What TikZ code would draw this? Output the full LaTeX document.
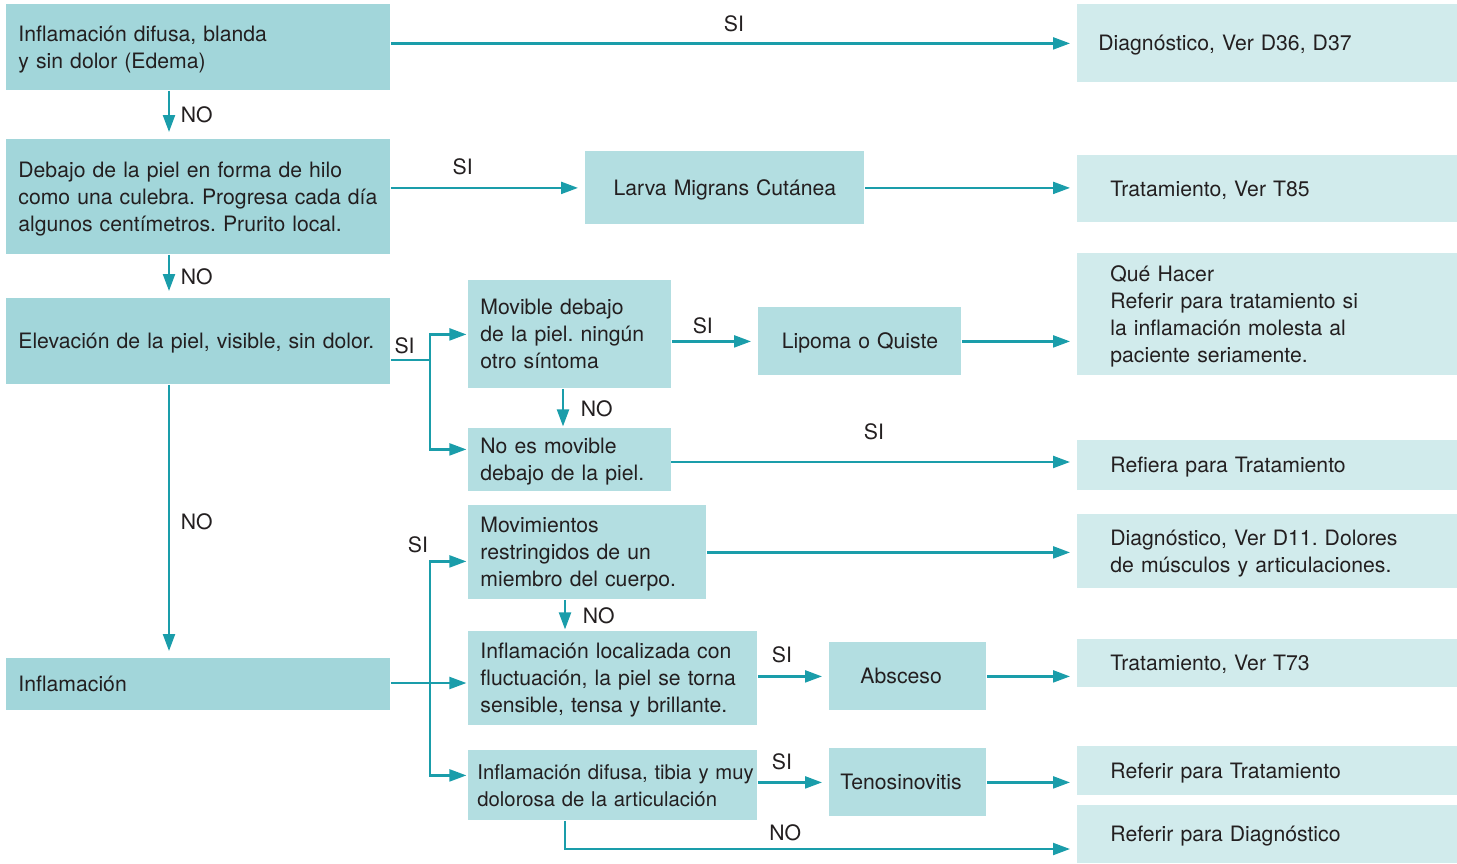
\documentclass[tikz,border=0pt]{standalone}
\usepackage{fontspec}
\setmainfont{TeX Gyre Heros}
\usetikzlibrary{arrows.meta,positioning}
\frenchspacing

\definecolor{qfill}{HTML}{A2D6DA}
\definecolor{afill}{HTML}{B3DEE1}
\definecolor{rfill}{HTML}{D1EBEC}
\definecolor{lnk}{HTML}{1A9DAA}
\definecolor{txt}{HTML}{231F20}

\begin{document}
\begin{tikzpicture}[x=0.5pt, y=-0.5pt,
    cell/.style={anchor=north west, inner xsep=0pt, inner ysep=0pt, align=left,
                 font=\fontsize{10.6}{13.5}\selectfont, text=txt,
                 execute at begin node={\rule{0pt}{11pt}},
                 execute at end node={\rule[-3.5pt]{0pt}{0pt}}},
    pad/.style={execute at begin node={\setlength{\leftskip}{#1}}},
    qbox/.style={cell, fill=qfill, text width=192pt, pad=6pt},
    abox/.style={cell, fill=afill, pad=6pt},
    cbox/.style={cell, fill=afill, align=center},
    rbox/.style={cell, fill=rfill, text width=190pt, pad=16.5pt},
    flow/.style={-{Triangle[length=8.5pt, width=6pt]}, line width=1.1pt, draw=lnk, shorten >=3.5pt},
    snug/.style={shorten >=0.8pt},
    link/.style={line width=1.1pt, draw=lnk},
    lbl/.style={font=\fontsize{10.6}{13.5}\selectfont, text=txt},
]
\useasboundingbox (0,0) rectangle (1457,863);

% Question column
\node[qbox, minimum height=43pt] (q1) at (6,4) {Inflamación difusa, blanda\\y sin dolor (Edema)};
\node[qbox, minimum height=57.5pt] (q2) at (6,139) {Debajo de la piel en forma de hilo\\como una culebra. Progresa cada día\\algunos centímetros. Prurito local.};
\node[qbox, minimum height=43pt] (q3) at (6,298) {Elevación de la piel, visible, sin dolor.};
\node[qbox, minimum height=26pt] (q4) at (6,658) {Inflamación};

% Middle column
\node[cbox, text width=139.5pt, minimum height=36.5pt] (larva) at (585,151) {Larva Migrans Cutánea};
\node[abox, text width=101.5pt, minimum height=54pt] (mov) at (468,280) {Movible debajo\\de la piel. ningún\\otro síntoma};
\node[cbox, text width=101.5pt, minimum height=34pt] (lipoma) at (758,307) {Lipoma o Quiste};
\node[abox, text width=101.5pt, minimum height=31.5pt] (nomov) at (468,428) {No es movible\\debajo de la piel.};
\node[abox, text width=119pt, minimum height=47pt] (restr) at (468,505) {Movimientos\\restringidos de un\\miembro del cuerpo.};
\node[abox, text width=144.5pt, minimum height=47pt] (local) at (468,631) {Inflamación localizada con\\fluctuación, la piel se torna\\sensible, tensa y brillante.};
\node[abox, text width=78.5pt, minimum height=34pt, pad=15.5pt] (absc) at (829,642) {Absceso};
\node[abox, text width=144.5pt, minimum height=35pt, pad=4.5pt, font=\fontsize{10.15}{13.5}\selectfont] (difusa) at (468,750) {\mbox{Inflamación difusa, tibia y muy}\\dolorosa de la articulación};
\node[abox, text width=78.5pt, minimum height=34pt, pad=5.5pt] (teno) at (829,748) {Tenosinovitis};

% Result column
\node[rbox, minimum height=39pt, pad=10.5pt] (r1) at (1077,4) {Diagnóstico, Ver D36, D37};
\node[rbox, minimum height=33.5pt] (r2) at (1077,155) {Tratamiento, Ver T85};
\node[rbox, minimum height=61pt] (r3) at (1077,253) {Qué Hacer\\Referir para tratamiento si\\la inflamación molesta al\\paciente seriamente.};
\node[rbox, minimum height=25pt] (r4) at (1077,440) {Refiera para Tratamiento};
\node[rbox, minimum height=37pt] (r5) at (1077,514) {Diagnóstico, Ver D11. Dolores\\de músculos y articulaciones.};
\node[rbox, minimum height=24pt] (r6) at (1077,639) {Tratamiento, Ver T73};
\node[rbox, minimum height=24.5pt] (r7) at (1077,746) {Referir para Tratamiento};
\node[rbox, minimum height=29pt] (r8) at (1077,805) {Referir para Diagnóstico};

% Helper points
\coordinate (spine) at (169,0);
\coordinate (stemA) at (563,0);
\coordinate (stemB) at (565,0);
\coordinate (fork1) at (430,360);
\coordinate (fork2) at (430,683);
\coordinate (lowrun) at (565,849);
\coordinate (nomovout) at (671,462);

% NO branches down the left column
\draw[flow] (q1.south -| spine) -- node[lbl, right=2pt] {NO} (q2.north -| spine);
\draw[flow] (q2.south -| spine) -- node[lbl, right=2pt] {NO} (q3.north -| spine);
\draw[flow] (q3.south -| spine) -- node[lbl, right=2pt] {NO} (q4.north -| spine);

% SI branches to the right
\draw[flow] (q1.east |- r1) -- node[lbl, above=1.8pt] {SI} (r1);
\draw[flow] (q2.east |- larva) -- node[lbl, above=2.8pt, pos=0.37] {SI} (larva);
\draw[flow] (larva) -- (larva -| r2.west);

% Elevation fork
\draw[link] (q3.east |- fork1) -- node[lbl, above=-1pt, pos=0.35] {SI} (fork1);
\draw[flow, snug] (fork1) |- (mov.west);
\draw[flow, snug] (fork1) |- ([yshift=5.25pt]nomov.west);
\draw[flow, snug] (mov.south -| stemA) -- node[lbl, right=5pt] {NO} (nomov.north -| stemA);
\draw[flow] (mov.east |- lipoma) -- node[lbl, above, pos=0.36] {SI} (lipoma);
\draw[flow] (lipoma) -- (lipoma -| r3.west);
\draw[flow] (nomovout) -- node[lbl, above=7.3pt] {SI} (nomovout -| r4.west);

% Inflammation fork
\draw[flow, snug] (q4.east |- fork2) -- (local.west |- fork2);
\draw[flow, snug] (fork2) |- node[lbl, pos=0.5, anchor=south east, inner sep=0.5pt, yshift=3pt] {SI} ([yshift=-4.5pt]restr.west);
\draw[flow, snug] (fork2) |- ([yshift=5pt]difusa.west);
\draw[flow] (restr) -- (restr -| r5.west);
\draw[flow, snug] (restr.south -| stemB) -- node[lbl, right=5pt] {NO} (local.north -| stemB);
\draw[flow] (local.east |- absc) -- node[lbl, above=2.8pt, pos=0.34] {SI} (absc);
\draw[flow] (absc) -- (absc -| r6.west);
\draw[flow] (difusa.east |- teno) -- node[lbl, above=2.3pt, pos=0.34] {SI} (teno);
\draw[flow] (teno) -- (teno -| r7.west);
\draw[flow] (difusa.south -| lowrun) -- (lowrun) -- node[lbl, above, pos=0.43] {NO} (lowrun -| r8.west);
\end{tikzpicture}
\end{document}
